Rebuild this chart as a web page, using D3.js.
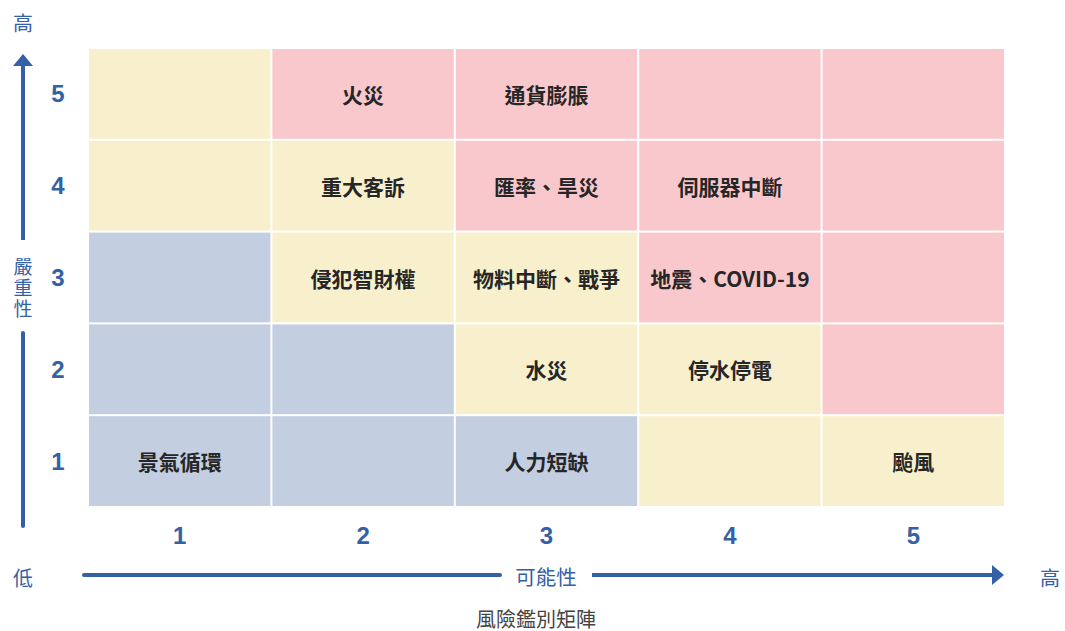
<!DOCTYPE html>
<html>
<head>
<meta charset="utf-8">
<script src="https://cdn.jsdelivr.net/npm/d3@7"></script>
<style>
  body { margin: 0; background: #fff; }
  svg { display: block; font-family: "Noto Sans CJK TC", "Noto Sans", sans-serif; }
</style>
</head>
<body>
<div id="chart"></div>
<script>
var likelihood = [1, 2, 3, 4, 5];
var severity = [5, 4, 3, 2, 1];

// level per cell, rows from severity 5 down to 1
var levels = [
  ["m", "h", "h", "h", "h"],
  ["m", "m", "h", "h", "h"],
  ["l", "m", "m", "h", "h"],
  ["l", "l", "m", "m", "h"],
  ["l", "l", "l", "m", "m"]
];

var risks = [
  {x: 2, y: 5, name: "火災"},
  {x: 3, y: 5, name: "通貨膨脹"},
  {x: 2, y: 4, name: "重大客訴"},
  {x: 3, y: 4, name: "匯率、旱災"},
  {x: 4, y: 4, name: "伺服器中斷"},
  {x: 2, y: 3, name: "侵犯智財權"},
  {x: 3, y: 3, name: "物料中斷、戰爭"},
  {x: 4, y: 3, name: "地震、COVID-19"},
  {x: 3, y: 2, name: "水災"},
  {x: 4, y: 2, name: "停水停電"},
  {x: 1, y: 1, name: "景氣循環"},
  {x: 3, y: 1, name: "人力短缺"},
  {x: 5, y: 1, name: "颱風"}
];

var levelColor = {l: "#c3cee1", m: "#f8f0cd", h: "#f9c8cc"};
var blue = "#3461a6";

var width = 1065, height = 631;

var svg = d3.select("#chart").append("svg")
    .attr("width", width)
    .attr("height", height);

var xScale = d3.scaleBand().domain(likelihood).range([89, 1004]).paddingInner(2 / 183).paddingOuter(0);
var yScale = d3.scaleBand().domain(severity).range([49, 506]).paddingInner(2 / 92).paddingOuter(0);

var cells = [];
levels.forEach(function(row, i) {
  row.forEach(function(lv, j) {
    cells.push({x: likelihood[j], y: severity[i], level: lv});
  });
});

svg.append("g").selectAll("rect").data(cells).enter().append("rect")
    .attr("x", function(d) { return xScale(d.x); })
    .attr("y", function(d) { return yScale(d.y); })
    .attr("width", xScale.bandwidth())
    .attr("height", yScale.bandwidth())
    .style("fill", function(d) { return levelColor[d.level]; });

svg.append("g").selectAll("text").data(risks).enter().append("text")
    .attr("x", function(d) { return xScale(d.x) + xScale.bandwidth() / 2; })
    .attr("y", function(d) { return yScale(d.y) + yScale.bandwidth() / 2; })
    .attr("text-anchor", "middle")
    .attr("dominant-baseline", "central")
    .style("font-size", "21px")
    .style("font-weight", "bold")
    .style("fill", "#262626")
    .text(function(d) { return d.name; });

// axis numbers
var xAxis = svg.append("g")
    .attr("transform", "translate(0,536)")
    .call(d3.axisBottom(xScale).tickSize(0).tickPadding(0));
xAxis.select(".domain").remove();
xAxis.selectAll("text")
    .attr("dy", "0.35em")
    .style("font-family", "Liberation Sans, Arial, sans-serif")
    .style("font-size", "24px").style("font-weight", "bold").style("fill", blue);

var yAxis = svg.append("g")
    .attr("transform", "translate(58,0)")
    .call(d3.axisLeft(yScale).tickSize(0).tickPadding(0));
yAxis.select(".domain").remove();
yAxis.selectAll("text")
    .attr("text-anchor", "middle")
    .attr("dy", "0.35em")
    .style("font-family", "Liberation Sans, Arial, sans-serif")
    .style("font-size", "24px").style("font-weight", "bold").style("fill", blue);

// vertical arrow (severity)
svg.append("line").attr("x1", 23).attr("x2", 23).attr("y1", 66).attr("y2", 240)
    .style("stroke", blue).style("stroke-width", 4);
svg.append("line").attr("x1", 23).attr("x2", 23).attr("y1", 333).attr("y2", 526)
    .style("stroke", blue).style("stroke-width", 4).style("stroke-linecap", "round");
svg.append("path").attr("d", "M23,54 L33,66 L13,66 Z").style("fill", blue);

svg.append("text")
    .attr("text-anchor", "middle")
    .style("font-size", "19px")
    .style("fill", blue)
    .selectAll("tspan").data(["嚴", "重", "性"]).enter().append("tspan")
    .attr("x", 23)
    .attr("y", function(d, i) { return 274 + i * 21; })
    .text(function(d) { return d; });

// horizontal arrow (likelihood)
svg.append("line").attr("x1", 84).attr("x2", 500).attr("y1", 575).attr("y2", 575)
    .style("stroke", blue).style("stroke-width", 4).style("stroke-linecap", "round");
svg.append("line").attr("x1", 592).attr("x2", 994).attr("y1", 575).attr("y2", 575)
    .style("stroke", blue).style("stroke-width", 4);
svg.append("path").attr("d", "M1004,575 L992,565 L992,585 Z").style("fill", blue);

svg.append("text").attr("x", 546).attr("y", 576)
    .attr("text-anchor", "middle").attr("dominant-baseline", "central")
    .style("font-size", "20.5px").style("fill", blue).text("可能性");

svg.append("text").attr("x", 23).attr("y", 22)
    .attr("text-anchor", "middle").attr("dominant-baseline", "central")
    .style("font-size", "20px").style("fill", blue).text("高");
svg.append("text").attr("x", 23).attr("y", 577)
    .attr("text-anchor", "middle").attr("dominant-baseline", "central")
    .style("font-size", "20px").style("fill", blue).text("低");
svg.append("text").attr("x", 1050).attr("y", 577)
    .attr("text-anchor", "middle").attr("dominant-baseline", "central")
    .style("font-size", "20px").style("fill", blue).text("高");

svg.append("text").attr("x", 536).attr("y", 618)
    .attr("text-anchor", "middle").attr("dominant-baseline", "central")
    .style("font-size", "20px").style("fill", "#444").text("風險鑑別矩陣");
</script>
</body>
</html>
